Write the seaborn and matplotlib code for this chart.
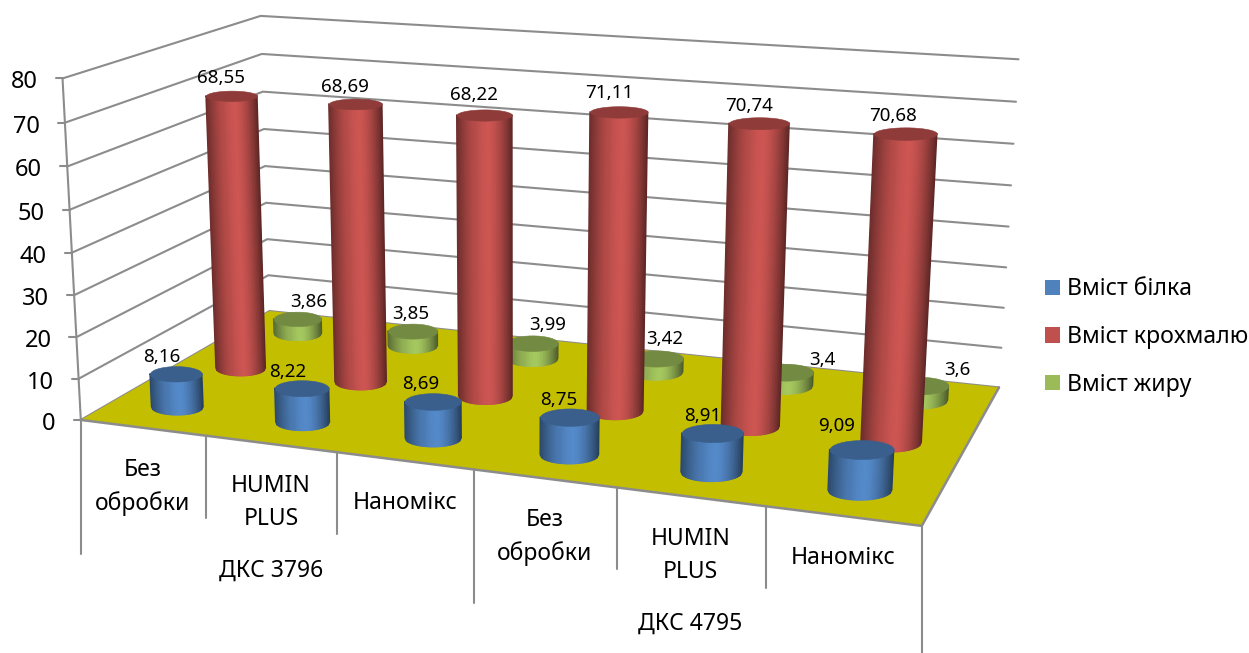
import numpy as np
import matplotlib
matplotlib.use("Agg")
import matplotlib.pyplot as plt
from matplotlib.lines import Line2D
from matplotlib.patches import Patch
from mpl_toolkits.mplot3d.art3d import Poly3DCollection
import seaborn as sns

# Grain quality by hybrid and seed treatment, percent
treatments = ["Без\nобробки", "HUMIN\nPLUS", "Наномікс", "Без\nобробки", "HUMIN\nPLUS", "Наномікс"]
hybrids = ["ДКС 3796", "ДКС 4795"]
series_names = ["Вміст білка", "Вміст крохмалю", "Вміст жиру"]
protein = [8.16, 8.22, 8.69, 8.75, 8.91, 9.09]
starch = [68.55, 68.69, 68.22, 71.11, 70.74, 70.68]
fat = [3.86, 3.85, 3.99, 3.42, 3.4, 3.6]
value_ticks = [0, 10, 20, 30, 40, 50, 60, 70, 80]

# Hand placement of the value labels, in pixels from the top of each cylinder
label_dx = [[-14, -14, -12, -11, -10, -25],
            [-10, -10, -10, -10, -10, -12],
            [11, -2, 15, 8, 37, 38]]
label_dy = [[-17, -16, -17, -17, -17, -23],
            [-18, -17, -20, -19, -17, -18],
            [-17, -17, -18, -19, -12, -15]]

W, H = 1249, 653
DEPTH = 3.0
ZMAX = 80.0
GRID = "#8C8C8C"
FLOOR = "#C4BE00"

sns.set_theme(style="white")
plt.rcParams["font.family"] = ["Noto Sans", "DejaVu Sans"]
colors = sns.color_palette(["#4F81BD", "#C0504D", "#9BBB59"])


def solve_camera():
    """Direct linear transform from plot-box corners to figure pixels."""
    world = [(0, 0, 0), (6, 0, 0), (6, DEPTH, 0), (0, DEPTH, 0),
             (0, 0, ZMAX), (0, DEPTH, ZMAX), (6, DEPTH, ZMAX)]
    pixel = [(81.7, 420), (921.7, 526), (999.3, 387.3), (268.5, 311),
             (61.7, 78.3), (261.5, 16), (1018.3, 59.3)]
    rows = []
    for (x, y, z), (u, v) in zip(world, pixel):
        x_n, y_n, z_n = x / 6, y / DEPTH, z / ZMAX
        rows.append([x_n, y_n, z_n, 1, 0, 0, 0, 0, -u * x_n, -u * y_n, -u * z_n, -u])
        rows.append([0, 0, 0, 0, x_n, y_n, z_n, 1, -v * x_n, -v * y_n, -v * z_n, -v])
    p = np.linalg.svd(np.array(rows))[2][-1].reshape(3, 4)
    p = p @ np.diag([1 / 6, 1 / DEPTH, 1 / ZMAX, 1])
    return p if p[2, 3] > 0 else -p


CAM = solve_camera()


def to_px(x, y, z):
    h = CAM @ np.array([x, y, z, 1.0])
    return np.array([h[0] / h[2], h[1] / h[2]])


fig = plt.figure(figsize=(W / 100, H / 100), dpi=100)
# A square 3D axes as wide as the figure, so nothing gets clipped at its box
ax = fig.add_axes([0, (H - W) / 2 / H, 1, W / H], projection="3d", computed_zorder=False)
ax.set_axis_off()
ax.patch.set_visible(False)
ax.set_proj_type("ortho")
ax.apply_aspect()

# Camera: world -> figure pixels -> the 2D view coordinates of the 3D axes
flip = np.array([[1, 0, 0], [0, -1, H], [0, 0, 1.0]])
view = ax.transData.inverted().get_matrix() @ flip @ CAM
proj = np.vstack([view[0], view[1], [0, 1 / DEPTH, 0, 0.5], view[2]])
ax.get_proj = lambda: proj

# Floor and wall grid
floor = Poly3DCollection([[(0, 0, 0), (6, 0, 0), (6, DEPTH, 0), (0, DEPTH, 0)]],
                         facecolors=FLOOR, edgecolors="none", zorder=2)
ax.add_collection3d(floor)
for v in value_ticks:
    ax.plot([0, 0, 6], [0, DEPTH, DEPTH], [v, v, v], color=GRID, lw=1.5, zorder=1,
            solid_joinstyle="miter")
ax.plot([0, 0], [0, 0], [0, ZMAX], color=GRID, lw=1.5, zorder=1)
ax.plot([0, 6, 6], [0, 0, DEPTH], [0, 0, 0], color=GRID, lw=1.8, zorder=3)


def screen_ellipse(cx, cy, z, theta, rx=0.21):
    """Circle of the cylinder at height z, kept level on screen."""
    c = to_px(cx, cy, z)
    jac = np.column_stack([to_px(cx + 0.01, cy, z) - c, to_px(cx, cy + 0.01, z) - c]) / 0.01
    half_w = rx * jac[0, 0]
    half_h = half_w * (0.31 - 0.11 * z / 70)
    offs = np.linalg.solve(jac, np.vstack([half_w * np.cos(theta), half_h * np.sin(theta)]))
    return cx + offs[0], cy + offs[1]


def cylinder(cx, cy, value, color, zorder, n=36):
    base = np.array(color)
    # Only the half turned towards the viewer is drawn, in strips of even screen width
    edges = np.linspace(-1, 1, n + 1)
    theta = np.arccos(edges)
    x0, y0 = screen_ellipse(cx, cy, 0, theta)
    x1, y1 = screen_ellipse(cx, cy, value, theta)
    quads, faces = [], []
    for i in range(n):
        quads.append([(x0[i], y0[i], 0), (x0[i + 1], y0[i + 1], 0),
                      (x1[i + 1], y1[i + 1], value), (x1[i], y1[i], value)])
        t = (1 + (edges[i] + edges[i + 1]) / 2) / 2
        s = abs(t - 0.55) / (0.55 if t < 0.55 else 0.45)
        edge = 0.55 if t < 0.55 else 0.46
        faces.append(np.clip(base * (edge + (1.07 - edge) * (1 - s ** 1.6)), 0, 1))
    side = Poly3DCollection(quads, facecolors=faces, edgecolors=faces, linewidths=1.0,
                            zorder=zorder, zsort="min")
    ax.add_collection3d(side)
    ring = np.linspace(0, 2 * np.pi, 73)
    xc, yc = screen_ellipse(cx, cy, value, ring)
    cap_color = tuple(base * 0.74)
    cap = Poly3DCollection([list(zip(xc, yc, np.full_like(xc, value)))],
                           facecolors=cap_color, edgecolors=cap_color, linewidths=0.4,
                           zorder=zorder + 0.5)
    ax.add_collection3d(cap)


series = [protein, starch, fat]
for s in (2, 1, 0):
    for c in range(6):
        cylinder(c + 0.5, s + 0.5, series[s][c], colors[s], zorder=10 - 2 * s + c * 0.01)


def px_text(u, v, text, **kw):
    return fig.text(u / W, 1 - v / H, text, ha=kw.pop("ha", "center"),
                    va=kw.pop("va", "center"), color="black", **kw)


for s in range(3):
    for c in range(6):
        u, v = to_px(c + 0.5, s + 0.5, series[s][c])
        px_text(u + label_dx[s][c], v + label_dy[s][c],
                f"{series[s][c]:g}".replace(".", ","), fontsize=13.5)

# Value axis
for v in value_ticks:
    u, w = to_px(0, 0, v)
    fig.add_artist(Line2D([(u - 7) / W, u / W], [1 - w / H] * 2, color=GRID, lw=1.5))
    px_text(u - 25, w + 4, str(v), ha="right", fontsize=17)

# Two-level category axis under the front edge of the floor
for c in range(7):
    u, w = to_px(c, 0, 0)
    drop = 134 if c % 3 == 0 else 82
    fig.add_artist(Line2D([u / W] * 2, [1 - w / H, 1 - (w + drop) / H], color=GRID, lw=1.5))
for c, name in enumerate(treatments):
    u, w = to_px(c + 0.5, 0, 0)
    px_text(u, w + (59 if "\n" in name else 42), name, fontsize=16.5, linespacing=1.5)
for g, name in enumerate(hybrids):
    u, w = to_px(1.5 + 3 * g, 0, 0)
    px_text(u, w + 127, name, fontsize=16.5)

handles = [Patch(facecolor=col, edgecolor="none") for col in colors]
fig.legend(handles, series_names, loc="center left", bbox_to_anchor=(1045 / W, 1 - 337 / H),
           frameon=False, fontsize=16.6, handlelength=0.65, handleheight=0.65,
           handletextpad=0.3, labelspacing=1.02, borderpad=0, borderaxespad=0,
           labelcolor="black")

fig.savefig("out.png", dpi=100)
